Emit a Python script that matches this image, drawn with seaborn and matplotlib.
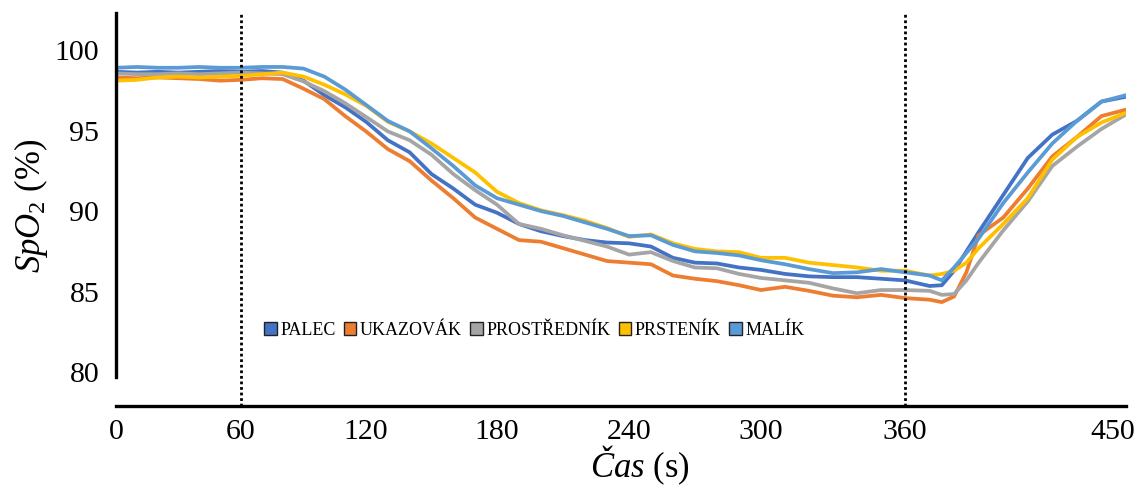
import numpy as np
import pandas as pd
import matplotlib
matplotlib.use("Agg")
import matplotlib.pyplot as plt
import matplotlib.transforms as mtransforms
from matplotlib.patches import Patch
import seaborn as sns

# ---------------- data ----------------
time_s = [0, 10, 20, 30, 40, 50, 60, 70, 80, 90, 100, 110, 120, 130, 140, 150,
          160, 170, 180, 190, 200, 210, 220, 230, 240, 250, 260, 270, 280, 290,
          300, 310, 320, 330, 340, 350, 360, 370, 375, 380, 385, 390, 400, 410,
          420, 430, 440, 450]

palec = [98.65, 98.6, 98.65, 98.6, 98.65, 98.7, 98.65, 98.7, 98.6, 98.1, 97.2, 96.45,
         95.55, 94.4, 93.65, 92.3, 91.4, 90.4, 89.9, 89.2, 88.75, 88.45, 88.2, 88.05,
         88.0, 87.8, 87.1, 86.8, 86.75, 86.5, 86.35, 86.1, 85.95, 85.9, 85.9, 85.8,
         85.7, 85.35, 85.4, 86.3, 87.5, 88.7, 91.0, 93.3, 94.75, 95.6, 96.8, 97.1]

ukazovak = [98.3, 98.25, 98.3, 98.25, 98.2, 98.1, 98.15, 98.25, 98.2, 97.6, 96.95, 95.9,
            94.95, 93.85, 93.1, 91.9, 90.8, 89.6, 88.9, 88.2, 88.1, 87.7, 87.3, 86.9,
            86.8, 86.7, 86.0, 85.8, 85.65, 85.4, 85.1, 85.3, 85.05, 84.75, 84.65, 84.8,
            84.6, 84.5, 84.35, 84.7, 86.2, 88.5, 89.6, 91.4, 93.4, 94.6, 95.9, 96.3]

prostrednik = [98.55, 98.5, 98.5, 98.55, 98.5, 98.55, 98.6, 98.55, 98.5, 98.05, 97.45, 96.7,
               95.85, 94.95, 94.4, 93.5, 92.3, 91.3, 90.4, 89.2, 88.9, 88.5, 88.15, 87.8,
               87.3, 87.45, 86.9, 86.5, 86.45, 86.1, 85.85, 85.7, 85.55, 85.2, 84.9, 85.1,
               85.1, 85.05, 84.8, 84.85, 85.7, 86.8, 88.8, 90.6, 92.8, 94.0, 95.1, 96.0]

prstenik = [98.1, 98.15, 98.3, 98.35, 98.3, 98.35, 98.4, 98.5, 98.6, 98.35, 97.85, 97.25,
            96.55, 95.55, 94.95, 94.2, 93.3, 92.4, 91.2, 90.5, 90.05, 89.75, 89.4, 88.95,
            88.4, 88.55, 88.0, 87.65, 87.5, 87.45, 87.1, 87.1, 86.8, 86.65, 86.5, 86.3,
            86.3, 86.0, 86.1, 86.3, 86.8, 87.7, 89.2, 90.8, 93.2, 94.6, 95.5, 96.1]

malik = [98.9, 98.95, 98.9, 98.9, 98.95, 98.9, 98.9, 98.95, 98.95, 98.85, 98.35, 97.55,
         96.6, 95.6, 94.95, 93.9, 92.8, 91.6, 90.8, 90.4, 90.0, 89.7, 89.3, 88.9,
         88.45, 88.5, 87.9, 87.5, 87.4, 87.25, 86.95, 86.7, 86.4, 86.15, 86.2, 86.4,
         86.2, 86.0, 85.7, 86.5, 87.4, 88.3, 90.5, 92.4, 94.2, 95.6, 96.8, 97.2]

series_names = ["PALEC", "UKAZOVÁK", "PROSTŘEDNÍK", "PRSTENÍK", "MALÍK"]
series_colors = ["#4472C4", "#ED7D31", "#A5A5A5", "#FFC000", "#5B9BD5"]
x_ticks = [0, 60, 120, 180, 240, 300, 360, 450]
y_ticks = [80, 85, 90, 95, 100]
event_times = [60, 360]

# ---------------- long table for seaborn ----------------
values = [palec, ukazovak, prostrednik, prstenik, malik]
df = pd.concat(
    [pd.DataFrame({"t": time_s, "spo2": v, "prst": n}) for n, v in zip(series_names, values)],
    ignore_index=True,
)

# ---------------- style ----------------
sns.set_theme(style="white")
plt.rcParams["font.family"] = ["Liberation Serif", "DejaVu Serif"]
plt.rcParams["mathtext.fontset"] = "custom"
plt.rcParams["mathtext.rm"] = "Liberation Serif"
plt.rcParams["mathtext.it"] = "Liberation Serif:italic"
plt.rcParams["mathtext.bf"] = "Liberation Serif:bold"
plt.rcParams["text.color"] = "black"
plt.rcParams["axes.labelcolor"] = "black"
plt.rcParams["xtick.color"] = "black"
plt.rcParams["ytick.color"] = "black"

fig = plt.figure(figsize=(11.42, 4.90), dpi=100)
ax = fig.add_axes([116 / 1142, 1 - 406 / 490, 1010 / 1142, 393 / 490])

# piecewise-linear time axis (as in the original chart)
knot_t = np.array([0, 60, 120, 180, 240, 300, 360, 450], dtype=float)
knot_p = np.array([0, 125, 250, 381, 513, 645, 789, 1010], dtype=float)


def _pw(x, xs, ys):
    x = np.asarray(x, dtype=float)
    y = np.interp(x, xs, ys)
    s0 = (ys[1] - ys[0]) / (xs[1] - xs[0])
    s1 = (ys[-1] - ys[-2]) / (xs[-1] - xs[-2])
    y = np.where(x < xs[0], ys[0] + (x - xs[0]) * s0, y)
    y = np.where(x > xs[-1], ys[-1] + (x - xs[-1]) * s1, y)
    return y


ax.set_xscale("function", functions=(lambda x: _pw(x, knot_t, knot_p),
                                     lambda p: _pw(p, knot_p, knot_t)))

sns.lineplot(data=df, x="t", y="spo2", hue="prst", hue_order=series_names,
             palette=series_colors, linewidth=2.7, legend=False, ax=ax,
             estimator=None, sort=False)

for et in event_times:
    ax.axvline(et, color="black", linestyle=(0, (1, 1)), linewidth=2.0, zorder=5)

ax.set_xlim(0, 450)
ax.set_ylim(77.9, 102.3)
ax.set_xticks(x_ticks)
ax.set_xticklabels([str(v) for v in x_ticks])
ax.set_yticks(y_ticks)
ax.set_yticklabels([str(v) for v in y_ticks])
ax.tick_params(axis="both", length=0, labelsize=21.5, colors="black")
ax.tick_params(axis="y", pad=12)
ax.tick_params(axis="x", pad=9)

# shift last x label slightly left as in original
last = ax.get_xticklabels()[-1]
last.set_transform(last.get_transform() + mtransforms.ScaledTranslation(-13 / 100, 0, fig.dpi_scale_trans))

for side in ["top", "right"]:
    ax.spines[side].set_visible(False)
for side in ["left", "bottom"]:
    ax.spines[side].set_color("black")
    ax.spines[side].set_linewidth(2.4)
ax.spines["left"].set_bounds(79.7, 102.3)

ax.set_xlabel(r"$\mathit{Čas}$ (s)", fontsize=25, va="center")
ax.set_ylabel(r"$SpO_2$ (%)", fontsize=25, va="center")
ax.xaxis.set_label_coords(0.519, -0.152)
ax.yaxis.set_label_coords(-0.084, 0.51)

handles = [Patch(facecolor=c, edgecolor="#222222", linewidth=1.0, label=n)
           for n, c in zip(series_names, series_colors)]
leg = ax.legend(handles=handles, ncol=5, loc="center", bbox_to_anchor=(0.414, 0.193),
                frameon=False, fontsize=13, handlelength=0.7, handleheight=0.7,
                handletextpad=0.2, columnspacing=0.45, borderpad=0.2)

fig.savefig("out.png", dpi=100, facecolor="white")
